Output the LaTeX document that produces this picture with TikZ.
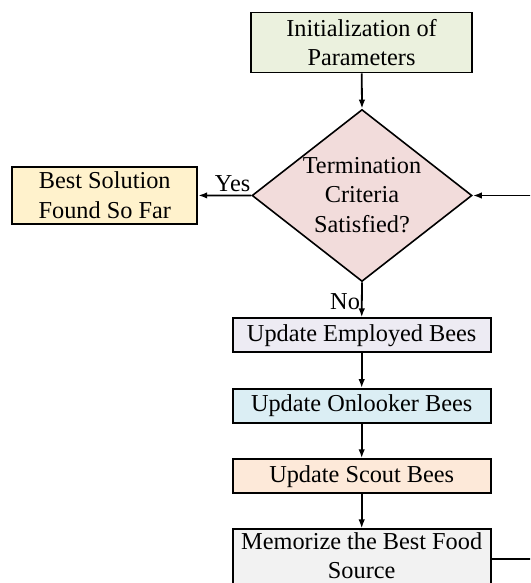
\documentclass[tikz,border=0pt]{standalone}
\usepackage{fontspec}
\setmainfont{Liberation Serif}
\usetikzlibrary{shapes.geometric,arrows.meta}
\definecolor{cinit}{HTML}{EBF1DE}
\definecolor{cdia}{HTML}{F2DCDB}
\definecolor{cbest}{HTML}{FFF2CC}
\definecolor{cemp}{HTML}{EDEBF3}
\definecolor{conl}{HTML}{DBEEF4}
\definecolor{csco}{HTML}{FDE9D9}
\definecolor{cmem}{HTML}{F2F2F2}
\tikzset{
  box/.style={draw=black, line width=1.8pt, rectangle, align=center, inner sep=0pt,
    font=\fontsize{24.3}{29.5}\selectfont},
  dia/.style={draw=black, line width=1.6pt, diamond, inner sep=0pt, fill=cdia},
  lbl/.style={font=\fontsize{24.3}{29.5}\selectfont, inner sep=0pt, align=center},
  conn/.style={line width=1.8pt, -{Latex[length=9pt,width=6.5pt]}},
  plain/.style={line width=1.8pt}
}
\begin{document}
\begin{tikzpicture}[x=1pt,y=-1pt]
\useasboundingbox (0,0) rectangle (530,583);
\clip (0,0) rectangle (530,583);
\fill[white] (0,0) rectangle (530,583);
\node[box, fill=cinit, minimum width=221pt, minimum height=60pt] (init) at (361.5,42.5) {Initialization of\\Parameters};
\node[dia, minimum width=220pt, minimum height=172pt] (dec) at (362,195.5) {};
\node[lbl] (dectxt) at (362,195) {Termination\\Criteria\\Satisfied?};
\node[box, fill=cbest, minimum width=185pt, minimum height=57pt] (best) at (104.8,195.4) {Best Solution\\Found So Far};
\node[box, fill=cemp, minimum width=258pt, minimum height=34pt] (emp) at (361.7,335.3) {Update Employed Bees};
\node[box, fill=conl, minimum width=258pt, minimum height=34pt] (onl) at (361.7,406) {Update Onlooker Bees};
\node[box, fill=csco, minimum width=258pt, minimum height=34pt] (sco) at (361.7,476.2) {Update Scout Bees};
\node[box, fill=cmem, minimum width=258pt, minimum height=60pt] (mem) at (361.7,559.3) {Memorize the Best Food\\Source\rule[-7pt]{0pt}{0pt}};
\coordinate (rlow) at (548,559.3);
\coordinate (rhigh) at (548,195.5);
\draw[conn] (init) -- (dec.north);
\draw[conn] (dec.west) -- node[lbl, above, pos=0.35, yshift=3pt] (yes) {Yes} (best.east);
\draw[conn] (dec.south) -- node[lbl, left, pos=0.55, xshift=-1pt] (no) {No} (emp.north);
\draw[conn] (emp) -- (onl);
\draw[conn] (onl) -- (sco);
\draw[conn] (sco) -- (mem);
\draw[plain] (mem.east) -- (rlow) -- (rhigh);
\draw[conn] (rhigh) -- (dec.east);
\end{tikzpicture}
\end{document}
